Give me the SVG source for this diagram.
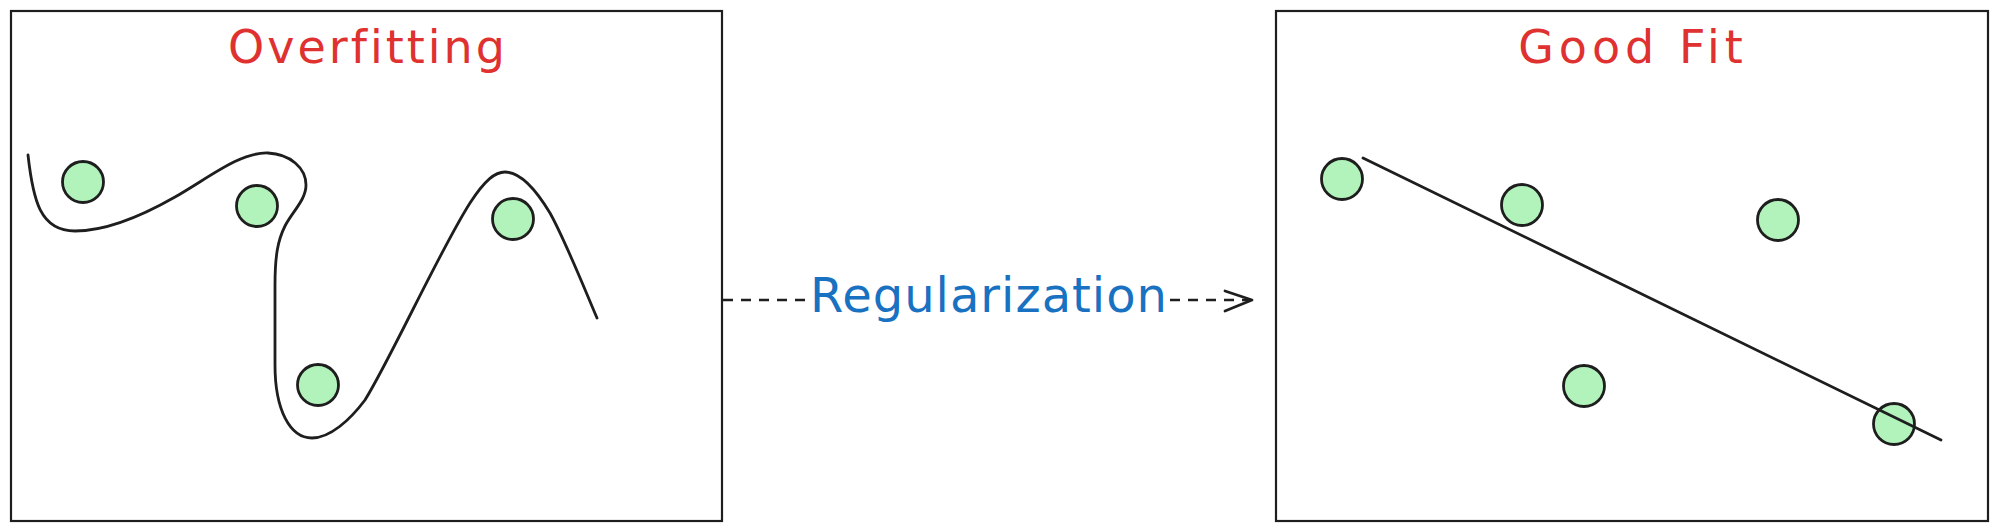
<svg xmlns="http://www.w3.org/2000/svg" width="1999" height="532" viewBox="0 0 1999 532">
  <defs>
    <style>
      .frame { fill: none; stroke: #1e1e1e; stroke-width: 2.2; }
      .pt { fill: #b2f2bb; stroke: #1e1e1e; stroke-width: 2.8; }
      .fit { fill: none; stroke: #1e1e1e; stroke-width: 2.8; stroke-linecap: round; stroke-linejoin: round; }
      .title { font-family: "DejaVu Sans", "Liberation Sans", sans-serif; font-size: 46px; fill: #e03131; text-anchor: middle; }
      .label { font-family: "DejaVu Sans", "Liberation Sans", sans-serif; font-size: 48px; fill: #1971c2; text-anchor: middle; }
      .dash { fill: none; stroke: #1e1e1e; stroke-width: 2.5; stroke-dasharray: 10 8; }
      .head { fill: none; stroke: #1e1e1e; stroke-width: 2.8; stroke-linecap: round; stroke-linejoin: round; }
    </style>
  </defs>
  <rect width="1999" height="532" fill="#ffffff"/>

  <g id="overfitting">
    <rect class="frame" x="11" y="11" width="711" height="510"/>
    <text class="title" x="368" y="63" letter-spacing="3">Overfitting</text>
    <path class="fit" d="M 28 155 C 33 200, 40 231, 75 231 C 105 231, 140 217, 175 197 C 210 177, 240 152, 268 153 C 290 154, 306 168, 306 185 C 306 200, 292 212, 285 226 C 278 240, 275 255, 275 285 L 275 365 C 275 410, 290 438, 312 438 C 330 438, 350 420, 365 400 C 390 360, 440 250, 470 203 C 485 180, 495 172, 505 172 C 520 172, 535 188, 550 213 C 565 240, 585 290, 597 318"/>
    <circle class="pt" cx="83" cy="182" r="20.5"/>
    <circle class="pt" cx="257" cy="206" r="20.5"/>
    <circle class="pt" cx="318" cy="385" r="20.5"/>
    <circle class="pt" cx="513" cy="219" r="20.5"/>
  </g>

  <g id="goodfit">
    <rect class="frame" x="1276" y="11" width="712" height="510"/>
    <text class="title" x="1633" y="63" letter-spacing="5">Good Fit</text>
    <circle class="pt" cx="1342" cy="179" r="20.5"/>
    <circle class="pt" cx="1522" cy="205" r="20.5"/>
    <circle class="pt" cx="1778" cy="220" r="20.5"/>
    <circle class="pt" cx="1584" cy="386" r="20.5"/>
    <circle class="pt" cx="1894" cy="424" r="20.5"/>
    <line class="fit" x1="1363" y1="158" x2="1941" y2="440"/>
  </g>

  <g id="connectors">
    <line class="dash" x1="723" y1="300" x2="806" y2="300"/>
    <line class="dash" x1="1170" y1="300" x2="1250" y2="300"/>
    <polyline class="head" points="1225,291 1252,300 1225,311"/>
    <text class="label" x="989" y="312" letter-spacing="1">Regularization</text>
  </g>
</svg>
